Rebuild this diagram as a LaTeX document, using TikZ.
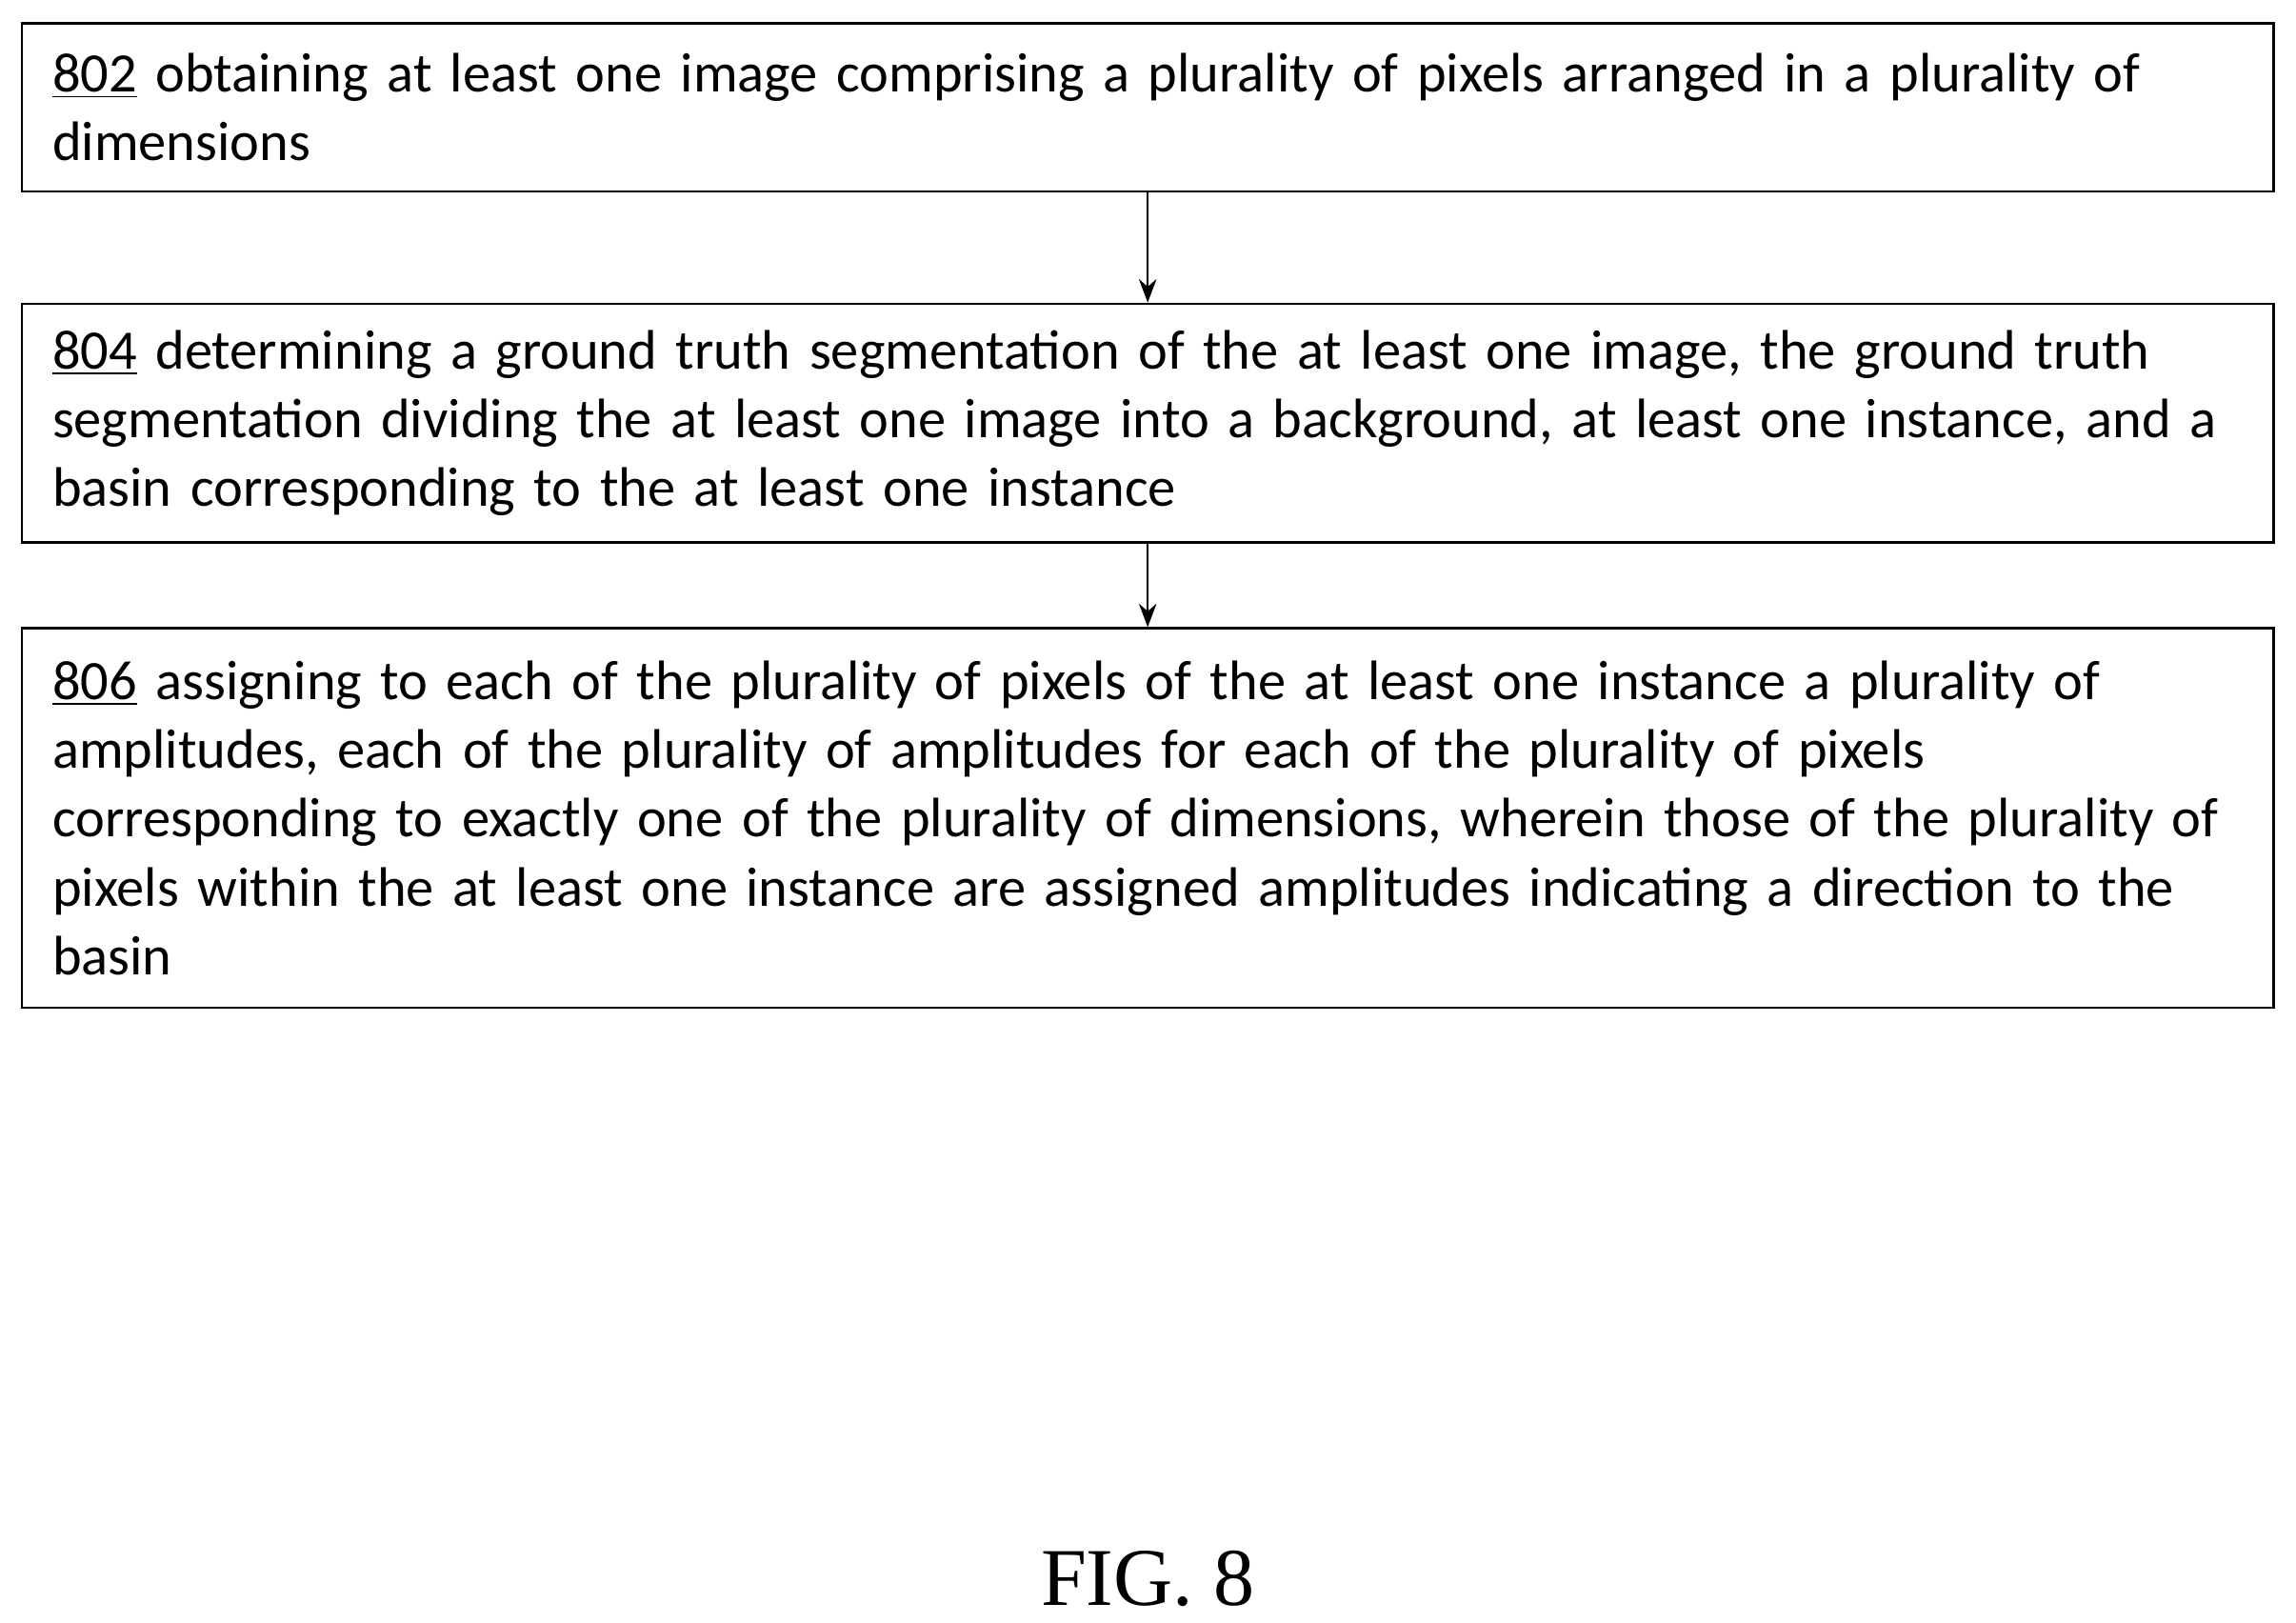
\documentclass[tikz,border=0pt]{standalone}
\usepackage{fontspec}
\setmainfont{Carlito}
\newfontfamily\figfont{Liberation Serif}
\usetikzlibrary{positioning, arrows.meta}
\tikzset{
    stepbox/.style={draw, line width=0.8pt, anchor=north west, align=left,
        text width=748pt, inner xsep=10.5pt, inner ysep=4pt,
        font=\fontsize{19}{23.5}\selectfont},
    flowarrow/.style={-{Stealth[length=8pt, width=6pt]}, line width=0.8pt}
}
\begin{document}
\begin{tikzpicture}[x=0.5pt, y=-0.5pt]
    \useasboundingbox (0,0) rectangle (1568,1108);

    % steps
    \node[stepbox, minimum height=57.5pt] (s802) at (14,15)
        {\underline{802} obtaining at least one image comprising a plurality of pixels arranged in a plurality of\\dimensions};
    \node[stepbox, minimum height=81.5pt, below=37.5pt of s802.south west, anchor=north west] (s804)
        {\underline{804} determining a ground truth segmentation of the at least one image, the ground truth\\segmentation dividing the at least one image into a background, at least one instance, and a\\basin corresponding to the at least one instance};
    \node[stepbox, minimum height=129.5pt, below=28.5pt of s804.south west, anchor=north west] (s806)
        {\underline{806} assigning to each of the plurality of pixels of the at least one instance a plurality of\\amplitudes, each of the plurality of amplitudes for each of the plurality of pixels\\corresponding to exactly one of the plurality of dimensions, wherein those of the plurality of\\pixels within the at least one instance are assigned amplitudes indicating a direction to the\\basin};

    % arrows
    \draw[flowarrow] (s802.south) -- (s804.north);
    \draw[flowarrow] (s804.south) -- (s806.north);

    \node[font=\figfont\fontsize{28}{32}\selectfont] (fig) at (784,1078) {FIG. 8};
\end{tikzpicture}
\end{document}
